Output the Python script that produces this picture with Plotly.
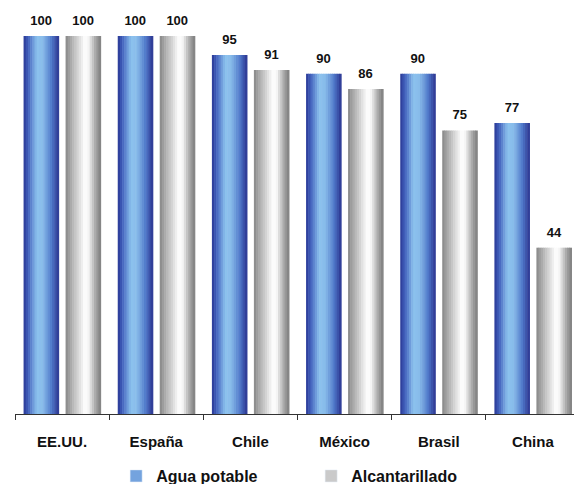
import plotly.graph_objects as go

categories = ["EE.UU.", "España", "Chile", "México", "Brasil", "China"]
agua_potable = [100, 100, 95, 90, 90, 77]
alcantarillado = [100, 100, 91, 86, 75, 44]
series_names = ["Agua potable", "Alcantarillado"]

FONT = "Liberation Sans, Arial, sans-serif"

def hex2rgb(h):
    h = h.lstrip("#")
    return tuple(int(h[i:i + 2], 16) for i in (0, 2, 4))

def interp(stops, t):
    for (t0, c0), (t1, c1) in zip(stops, stops[1:]):
        if t0 <= t <= t1:
            f = 0 if t1 == t0 else (t - t0) / (t1 - t0)
            a, b = hex2rgb(c0), hex2rgb(c1)
            return "rgb(%d,%d,%d)" % tuple(round(a[i] + (b[i] - a[i]) * f) for i in range(3))
    return stops[-1][1]

blue_stops = [(0, "#2a3794"), (0.12, "#3f5dbb"), (0.38, "#8cc2ee"), (0.55, "#88bbea"),
              (0.8, "#4f78ca"), (1, "#2b3590")]
gray_stops = [(0, "#878787"), (0.2, "#b5b5b5"), (0.55, "#ffffff"), (0.65, "#f6f6f6"),
              (0.86, "#a6a6a6"), (1, "#7d7d7d")]

BAR_W = 0.372
N = 16
strip = BAR_W / N

fig = go.Figure()
specs = [(agua_potable, -0.409, blue_stops, series_names[0]),
         (alcantarillado, 0.037, gray_stops, series_names[1])]

for vals, start, stops, name in specs:
    for k in range(N):
        t = (k + 0.5) / N
        fig.add_trace(go.Bar(
            x=categories, y=vals,
            width=strip * 1.25, offset=start + k * strip,
            marker=dict(color=interp(stops, t), line=dict(width=0)),
            name=name, legendgroup=name,
            showlegend=False, hoverinfo="skip",
        ))
    # value labels on an overlaid numeric axis, centred over each bar
    fig.add_trace(go.Scatter(
        x=[i + start + BAR_W / 2 for i in range(len(categories))], y=vals,
        xaxis="x2", mode="markers+text",
        marker=dict(size=11, color="rgba(0,0,0,0)"),
        text=[str(v) for v in vals], textposition="top center",
        textfont=dict(family=FONT, size=13, color="#111111", weight="bold"),
        cliponaxis=False, showlegend=False, hoverinfo="skip",
    ))
    fig.add_trace(go.Bar(
        x=[None], y=[None], name=name, legendgroup=name,
        marker=dict(color=interp(stops, 0.3)), showlegend=True,
    ))

fig.update_layout(
    width=574, height=476,
    barmode="overlay",
    plot_bgcolor="white", paper_bgcolor="white",
    margin=dict(l=7, r=2, t=28, b=70, autoexpand=False),
    showlegend=True,
    legend=dict(orientation="h", x=0.179, xanchor="left", y=-0.164, yanchor="middle",
                font=dict(family=FONT, size=16, color="#111111", weight="bold"),
                itemwidth=30, traceorder="normal",
                entrywidth=150, entrywidthmode="pixels"),
    xaxis=dict(
        type="category", range=[-0.5, 5.5],
        showline=True, linecolor="#333333", linewidth=1,
        ticks="outside", ticklen=5, tickcolor="#333333", tickson="boundaries",
        tickfont=dict(family=FONT, size=15, color="#111111", weight="bold"),
        ticklabelstandoff=14,
        showgrid=False,
    ),
    xaxis2=dict(overlaying="x", range=[-0.5, 5.5], visible=False, showgrid=False),
    yaxis=dict(range=[0, 100], visible=False, showgrid=False),
)

fig.write_html("out.html")
